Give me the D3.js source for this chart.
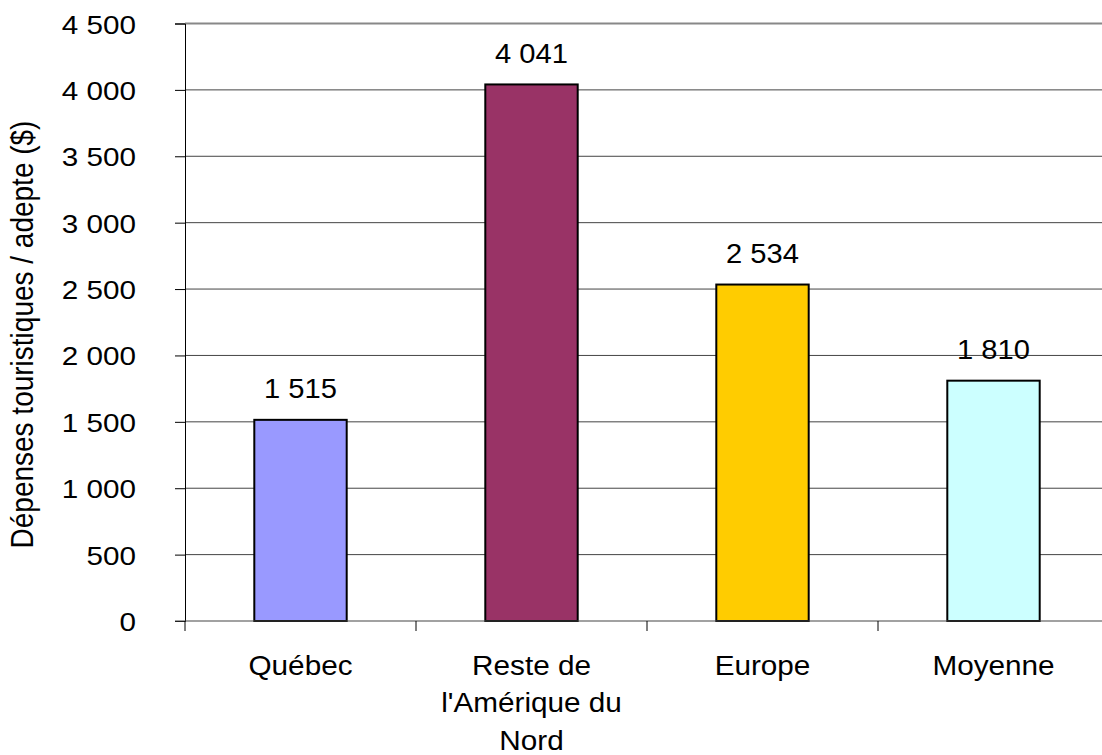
<!DOCTYPE html>
<html>
<head>
<meta charset="utf-8">
<script src="https://cdn.jsdelivr.net/npm/d3@7"></script>
<style>
  body { margin: 0; background: #fff; }
  svg { font-family: "Liberation Sans", Arial, sans-serif; }
</style>
</head>
<body>
<svg id="chart" width="1102" height="755"></svg>
<script>
const categories = ["Québec", "Reste de l'Amérique du Nord", "Europe", "Moyenne"];
const categoryLines = [["Québec"], ["Reste de", "l'Amérique du", "Nord"], ["Europe"], ["Moyenne"]];
const values = [1515, 4041, 2534, 1810];
const colors = ["#9999FF", "#993366", "#FFCC00", "#CCFFFF"];
const yTicks = [0, 500, 1000, 1500, 2000, 2500, 3000, 3500, 4000, 4500];

const svg = d3.select("#chart");
const plotLeft = 185, plotRight = 1109, plotTop = 23.5, plotBottom = 621;
const stretch = 1.12; // text in the original is a bit wider than tall

const fmt = v => d3.format(",")(v).replace(/,/g, " ");

const x = d3.scaleBand().domain(categories).range([plotLeft, plotRight]).paddingInner(0.6).paddingOuter(0.3);
const xBand = d3.scaleBand().domain(categories).range([plotLeft, plotRight]);
const y = d3.scaleLinear().domain([0, 4500]).range([plotBottom, plotTop]);

// grid
svg.append("g").selectAll("line")
  .data(yTicks.slice(1))
  .join("line")
  .attr("x1", plotLeft).attr("x2", plotRight)
  .attr("y1", d => y(d)).attr("y2", d => y(d))
  .attr("stroke", d => d === 4500 ? "#888" : "#444")
  .attr("stroke-width", d => d === 4500 ? 2 : 1);

// y axis
const yAxis = d3.axisLeft(y).tickValues(yTicks).tickSize(10).tickFormat(fmt);
const gy = svg.append("g").attr("transform", `translate(${plotLeft},0)`).call(yAxis);
gy.attr("font-family", null).attr("font-size", null);
gy.select(".domain").attr("stroke", "#000").attr("stroke-width", 1);
gy.selectAll(".tick line").attr("stroke", "#000");
gy.selectAll(".tick text")
  .attr("font-size", 26.5).attr("fill", "#000")
  .attr("x", 0).attr("dy", null).attr("y", 9.5)
  .attr("transform", `translate(-49,0) scale(${stretch},1)`);

// bars
svg.append("g").selectAll("rect")
  .data(values)
  .join("rect")
  .attr("x", (d, i) => x(categories[i]))
  .attr("y", d => y(d))
  .attr("width", x.bandwidth())
  .attr("height", d => plotBottom - y(d))
  .attr("fill", (d, i) => colors[i])
  .attr("stroke", "#000")
  .attr("stroke-width", 2);

// x axis line + ticks
svg.append("line").attr("x1", plotLeft - 10).attr("x2", plotRight).attr("y1", plotBottom).attr("y2", plotBottom)
  .attr("stroke", "#444").attr("stroke-width", 1.2);
svg.append("g").selectAll("line")
  .data(categories.concat([null]))
  .join("line")
  .attr("x1", (d, i) => plotLeft + i * xBand.bandwidth())
  .attr("x2", (d, i) => plotLeft + i * xBand.bandwidth())
  .attr("y1", plotBottom).attr("y2", plotBottom + 10)
  .attr("stroke", "#000");

// value labels
svg.append("g").selectAll("text")
  .data(values)
  .join("text")
  .attr("transform", (d, i) => `translate(${x(categories[i]) + x.bandwidth() / 2},${y(d) - 21.5}) scale(1.06,1)`)
  .attr("text-anchor", "middle")
  .attr("font-size", 27.5)
  .text(fmt);

// category labels
const cat = svg.append("g").selectAll("text")
  .data(categories)
  .join("text")
  .attr("transform", d => `translate(${xBand(d) + xBand.bandwidth() / 2},675) scale(1.08,1)`)
  .attr("text-anchor", "middle")
  .attr("font-size", 27.5);
cat.selectAll("tspan")
  .data((d, i) => categoryLines[i])
  .join("tspan")
  .attr("x", 0)
  .attr("dy", (d, i) => i === 0 ? 0 : 37.5)
  .text(d => d);

// y title
svg.append("text")
  .attr("transform", `translate(33,334.5) scale(${stretch},1) rotate(-90)`)
  .attr("text-anchor", "middle")
  .attr("font-size", 28)
  .text("Dépenses touristiques / adepte ($)");
</script>
</body>
</html>
